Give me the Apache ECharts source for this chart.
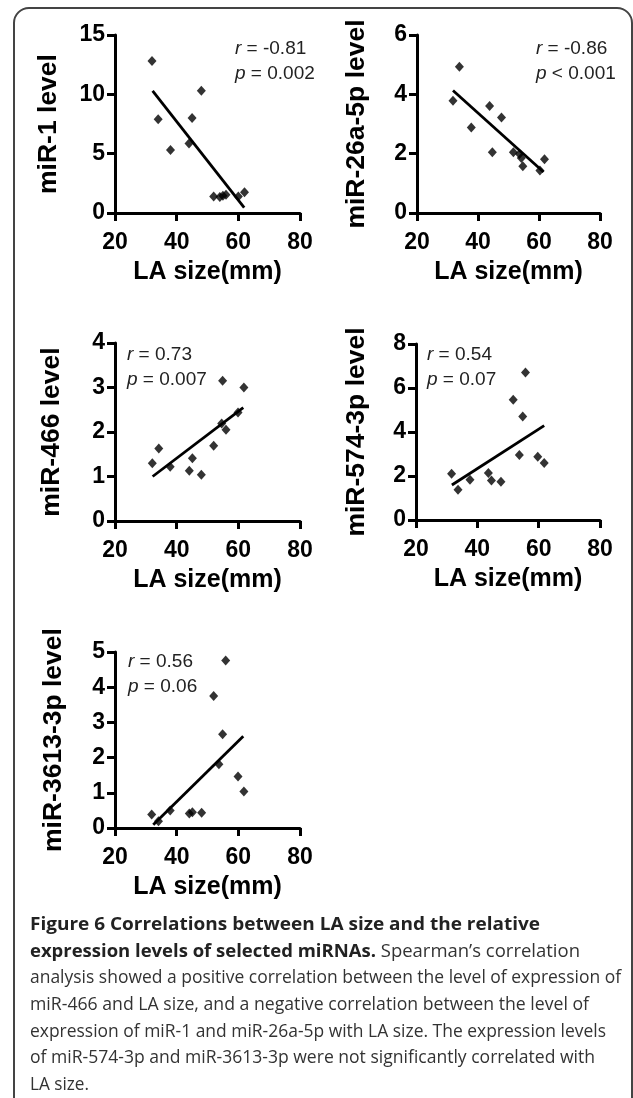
<!DOCTYPE html>
<html>
<head>
<meta charset="utf-8">
<script src="https://cdn.jsdelivr.net/npm/echarts@6/dist/echarts.min.js"></script>
<style>
html,body{margin:0;padding:0;background:#fff;width:633px;height:1098px;overflow:hidden;}
#frame{position:absolute;left:13px;top:7px;width:620px;height:1200px;box-sizing:border-box;border:2px solid #444;border-radius:16px;}
#chart{position:absolute;left:0;top:0;width:633px;height:1098px;}
#caption{position:absolute;left:30px;top:910px;font-family:"Open Sans",sans-serif;font-size:17.5px;color:#333;}
#caption .ln{position:absolute;left:0;white-space:nowrap;transform-origin:0 50%;line-height:26px;height:26px;}
#caption b{font-weight:700;color:#222;}
</style>
</head>
<body>
<div id="frame"></div>
<div id="chart"></div>
<div id="caption"></div>
<script>
// ---- data ----
const laSize = [32, 34, 38, 44, 45, 48, 52, 54, 55, 56, 60, 62];
const mir1 = [12.8, 7.9, 5.3, 5.85, 8.0, 10.3, 1.4, 1.35, 1.46, 1.54, 1.4, 1.74];
const laSize26a = [31.8, 33.9, 37.8, 43.8, 44.7, 47.7, 51.6, 53.6, 54.2, 54.7, 60.3, 61.8];
const mir26a = [3.78, 4.93, 2.88, 3.61, 2.05, 3.22, 2.05, 1.99, 1.85, 1.58, 1.43, 1.81];
const laSize466 = [32.1, 34.2, 37.9, 44.1, 45.1, 48.0, 52.0, 54.6, 54.9, 56.0, 59.9, 61.8];
const mir466 = [1.30, 1.63, 1.22, 1.13, 1.41, 1.04, 1.69, 2.19, 3.15, 2.05, 2.44, 3.0];
const laSize574 = [31.6, 33.7, 37.6, 43.6, 44.6, 47.7, 51.7, 53.7, 54.8, 55.7, 59.7, 61.8];
const mir574 = [2.1, 1.38, 1.83, 2.14, 1.79, 1.74, 5.47, 2.95, 4.70, 6.71, 2.88, 2.59];
const laSize3613 = [31.9, 34.1, 37.9, 44.1, 45.1, 48.1, 52.0, 53.7, 54.9, 55.9, 59.9, 61.8];
const mir3613 = [0.38, 0.19, 0.50, 0.41, 0.45, 0.43, 3.75, 1.81, 2.66, 4.76, 1.46, 1.04];
// fitted regression line end points [[x0,y0],[x1,y1]]
const fit1 = [[32.2, 10.3], [61.9, 0.45]];
const fit26a = [[31.8, 4.13], [61.5, 1.38]];
const fit466 = [[32.2, 1.0], [61.6, 2.55]];
const fit574 = [[31.7, 1.59], [61.8, 4.29]];
const fit3613 = [[32.4, 0.09], [61.6, 2.61]];
// axes
const xTicks = {min: 20, max: 80, interval: 20};
const yRanges = [
  {name: 'miR-1 level', max: 15, interval: 5},
  {name: 'miR-26a-5p level', max: 6, interval: 2},
  {name: 'miR-466 level', max: 4, interval: 1},
  {name: 'miR-574-3p level', max: 8, interval: 2},
  {name: 'miR-3613-3p level', max: 5, interval: 1}
];
const stats = [['-0.81', '= 0.002'], ['-0.86', '< 0.001'], ['0.73', '= 0.007'], ['0.54', '= 0.07'], ['0.56', '= 0.06']];
const xName = 'LA size(mm)';
const captionLines = [
  ['<b>Figure 6 Correlations between LA size and the relative</b>', 540],
  ['<b>expression levels of selected miRNAs.</b> Spearman\u2019s correlation', 580],
  ['analysis showed a positive correlation between the level of expression of', 621],
  ['miR-466 and LA size, and a negative correlation between the level of', 589],
  ['expression of miR-1 and miR-26a-5p with LA size. The expression levels', 606],
  ['of miR-574-3p and miR-3613-3p were not significantly correlated with', 595],
  ['LA size.', 89]
];

const xs = [laSize, laSize26a, laSize466, laSize574, laSize3613];
const ys = [mir1, mir26a, mir466, mir574, mir3613];
const fits = [fit1, fit26a, fit466, fit574, fit3613];

// layout (pixels)
const grids = [
  {left: 115, top: 35, width: 185, height: 178},
  {left: 417, top: 35, width: 183, height: 178},
  {left: 115, top: 343, width: 185, height: 178},
  {left: 416, top: 344, width: 184, height: 176},
  {left: 115, top: 652, width: 185, height: 176}
];
const nameGaps = [53, 47, 50, 46, 48];
const statPos = [[235, 49], [536, 49], [127, 355], [427, 355], [128, 662]];

const FF = '"Liberation Sans", Arial, sans-serif';
const axisCommon = {
  axisLine: {show: true, onZero: false, lineStyle: {color: '#000', width: 3}},
  axisTick: {show: true, length: 8, lineStyle: {color: '#000', width: 3}},
  splitLine: {show: false},
  axisLabel: {color: '#000', fontSize: 23, fontWeight: 'bold', fontFamily: FF},
  nameTextStyle: {color: '#000', fontSize: 25, fontWeight: 'bold', fontFamily: FF}
};

const option = {
  animation: false,
  grid: grids.map(g => Object.assign({containLabel: false}, g)),
  xAxis: grids.map((g, i) => Object.assign({}, axisCommon, {
    gridIndex: i, type: 'value', min: xTicks.min, max: xTicks.max, interval: xTicks.interval,
    name: xName, nameLocation: 'middle', nameGap: 47,
    axisLabel: Object.assign({}, axisCommon.axisLabel, {margin: 18})
  })),
  yAxis: yRanges.map((r, i) => Object.assign({}, axisCommon, {
    gridIndex: i, type: 'value', min: 0, max: r.max, interval: r.interval,
    name: r.name, nameLocation: 'middle', nameRotate: 90, nameGap: nameGaps[i],
    nameTextStyle: Object.assign({}, axisCommon.nameTextStyle, {fontSize: 26.5}),
    axisLabel: Object.assign({}, axisCommon.axisLabel, {margin: 10})
  })),
  series: [],
  graphic: []
};
for (let i = 0; i < 5; i++) {
  option.series.push({
    type: 'scatter', xAxisIndex: i, yAxisIndex: i,
    data: xs[i].map((x, k) => [x, ys[i][k]]),
    symbol: 'diamond', symbolSize: [9, 10],
    itemStyle: {color: '#000'}, z: 3
  });
  option.series.push({
    type: 'line', xAxisIndex: i, yAxisIndex: i,
    data: fits[i], showSymbol: false, symbol: 'none',
    lineStyle: {color: '#000', width: 2.8}, z: 2
  });
  option.graphic.push({
    type: 'text', x: statPos[i][0], y: statPos[i][1],
    style: {text: '{i|r} = ' + stats[i][0], fill: '#222', font: '19px ' + FF, verticalAlign: 'middle',
      rich: {i: {fontStyle: 'italic', fontSize: 19, fontFamily: FF, fill: '#222'}}}
  });
  option.graphic.push({
    type: 'text', x: statPos[i][0], y: statPos[i][1] + 25,
    style: {text: '{i|p} ' + stats[i][1], fill: '#222', font: '19px ' + FF, verticalAlign: 'middle',
      rich: {i: {fontStyle: 'italic', fontSize: 19, fontFamily: FF, fill: '#222'}}}
  });
}
const chart = echarts.init(document.getElementById('chart'), null, {renderer: 'canvas'});
chart.setOption(option);

// caption
const cap = document.getElementById('caption');
captionLines.forEach((l, i) => {
  const d = document.createElement('div');
  d.className = 'ln';
  d.style.top = (i * 26.67) + 'px';
  d.innerHTML = l[0];
  cap.appendChild(d);
  const w = d.getBoundingClientRect().width;
  const target = l[1] - 30;
  d.style.transform = 'scaleX(' + (target / w).toFixed(4) + ')';
});
</script>
</body>
</html>
